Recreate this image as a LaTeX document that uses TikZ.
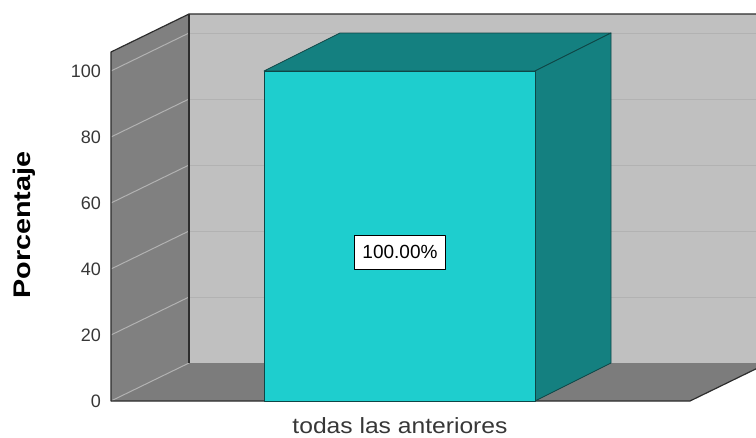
\documentclass[tikz,border=0pt]{standalone}
\usepackage{fontspec}
\setmainfont{Liberation Sans}
\definecolor{backwall}{RGB}{192,192,192}
\definecolor{sidewall}{RGB}{128,128,128}
\definecolor{floorgrey}{RGB}{124,124,124}
\definecolor{gridback}{RGB}{178,178,178}
\definecolor{gridside}{RGB}{178,178,178}
\definecolor{edge}{RGB}{45,45,45}
\definecolor{barfront}{RGB}{30,206,206}
\definecolor{barside}{RGB}{20,128,128}
\definecolor{barline}{RGB}{15,70,70}
\definecolor{ticktext}{RGB}{55,55,55}
\usetikzlibrary{positioning}
\tikzstyle{base}=[x=1pt, y=-1pt, line join=round]
\tikzstyle{edgeline}=[edge, line width=1.2pt]
\tikzstyle{barface}=[draw=barline, line width=0.8pt]
\tikzstyle{ticklabel}=[anchor=east, inner sep=0pt, text=ticktext, font=\fontsize{18}{18}\selectfont]

\begin{document}
\begin{tikzpicture}[base]
    \useasboundingbox (0,0) rectangle (756,437);
    \clip (0,0) rectangle (756,437);
    % walls and floor
    \fill [backwall] (189,14) rectangle (756,363);
    \foreach \v in {1,...,5}
        \draw [gridback, line width=1pt] (189,{363-66*\v}) -- (756,{363-66*\v});
    \fill [sidewall] (111,52) -- (189,14) -- (189,363) -- (111,401) -- cycle;
    \fill [floorgrey] (111,401) -- (189,363) -- (768,363) -- (690,401) -- cycle;
    \foreach \v in {0,...,5}
        \draw [gridside, line width=1pt] (111,{401-66*\v}) -- (189,{363-66*\v});
    \draw [edge, line width=2.5pt] (189,14) -- (189,363);
    \draw [edgeline] (756,14) -- (189,14) -- (111,52) -- (111,401) -- (690,401) -- (768,363);
    % bar
    \draw [barface, fill=barside] (264,71) -- (340,33) -- (611,33) -- (535,71) -- cycle;
    \draw [barface, fill=barside] (535,71) -- (611,33) -- (611,363) -- (535,401) -- cycle;
    \draw [barface, fill=barfront] (264,71) rectangle (535,401);
    % labels
    \foreach \v in {0,20,...,100}
        \node [ticklabel] (t\v) at (101,{401-3.3*\v}) {\v};
    \node [draw=black, fill=white, line width=0.8pt, inner sep=0pt, minimum width=91pt, minimum height=34pt,
        font=\fontsize{19}{19}\selectfont] (pct) at (400,252) {100.00\%};
    \node [rotate=90, inner sep=0pt, font=\fontsize{24}{24}\selectfont\bfseries] (ytitle) at (24,225)
        {\scalebox{1.2}[1]{Porcentaje}};
    \node [anchor=base, inner sep=0pt, text=ticktext, font=\fontsize{22}{22}\selectfont] (cat) at (400,433)
        {\scalebox{1.12}[1]{todas las anteriores}};
\end{tikzpicture}
\end{document}
